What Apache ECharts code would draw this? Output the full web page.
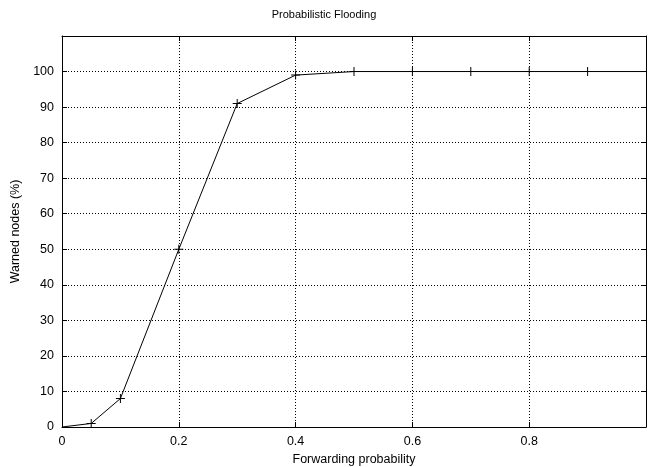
<!DOCTYPE html>
<html><head><meta charset="utf-8">
<script src="https://cdn.jsdelivr.net/npm/echarts@6/dist/echarts.min.js"></script>
<style>html,body{margin:0;padding:0;background:#fff}#c{width:648px;height:467px}</style>
</head><body><div id="c"></div>
<script>
const probabilities = [0, 0.05, 0.1, 0.2, 0.3, 0.4, 0.5, 0.6, 0.7, 0.8, 0.9, 1.0];
const warned = [0, 1, 8, 50, 91, 99, 100, 100, 100, 100, 100, 100];
const xTicks = [0, 0.2, 0.4, 0.6, 0.8];
const yTicks = [0, 10, 20, 30, 40, 50, 60, 70, 80, 90, 100];

const font = 'Liberation Sans, Arial, sans-serif';
const plus = 'path://M4,0H5V4H9V5H5V9H4V5H0V4H4Z';
const data = probabilities.map((p, i) => {
  const item = { value: [p, warned[i]] };
  if (i === 0 || i === probabilities.length - 1) item.symbol = 'none';
  return item;
});
const chart = echarts.init(document.getElementById('c'), null, { renderer: 'canvas' });
const dotted = { show: true, lineStyle: { color: '#000', type: [1, 2], width: 1 } };
chart.setOption({
  animation: false,
  title: { text: 'Probabilistic Flooding', left: 'center', top: 4,
    textStyle: { fontFamily: font, fontSize: 11, fontWeight: 'normal', color: '#000' } },
  grid: { left: 62, right: 2, top: 36, bottom: 40, containLabel: false, outerBoundsMode: 'none' },
  xAxis: [{
    type: 'value', min: 0, max: 1, interval: 0.2,
    name: 'Forwarding probability', nameLocation: 'middle', nameGap: 26,
    nameTextStyle: { fontFamily: font, fontSize: 12.5, color: '#000' },
    axisLine: { onZero: false, lineStyle: { color: '#000', width: 1 } },
    axisTick: { inside: true, length: 5, lineStyle: { color: '#000' } },
    axisLabel: { fontFamily: font, fontSize: 12.5, color: '#000', margin: 8,
      formatter: v => (xTicks.includes(Math.round(v * 10) / 10) ? String(Math.round(v * 10) / 10) : '') },
    splitLine: dotted
  }, {
    type: 'value', min: 0, max: 1, interval: 0.2, position: 'top',
    axisLine: { onZero: false, lineStyle: { color: '#000', width: 1 } },
    axisTick: { inside: true, length: 5, lineStyle: { color: '#000' } },
    axisLabel: { show: false }, splitLine: { show: false }
  }],
  yAxis: [{
    type: 'value', min: 0, max: 110, interval: 10,
    name: 'Warned nodes (%)', nameLocation: 'middle', nameGap: 38, nameRotate: 90,
    nameTextStyle: { fontFamily: font, fontSize: 12.5, color: '#000' },
    axisLine: { onZero: false, lineStyle: { color: '#000', width: 1 } },
    axisTick: { inside: true, length: 5, lineStyle: { color: '#000' } },
    axisLabel: { fontFamily: font, fontSize: 12.5, color: '#000', margin: 8,
      formatter: v => (yTicks.includes(v) ? String(v) : '') },
    splitLine: dotted
  }, {
    type: 'value', min: 0, max: 110, interval: 10, position: 'right',
    axisLine: { onZero: false, lineStyle: { color: '#000', width: 1 } },
    axisTick: { inside: true, length: 5, lineStyle: { color: '#000' } },
    axisLabel: { show: false }, splitLine: { show: false }
  }],
  series: [{
    type: 'line', data: data, xAxisIndex: 0, yAxisIndex: 0,
    symbol: plus, symbolSize: 9, showAllSymbol: true,
    lineStyle: { color: '#000', width: 1 },
    itemStyle: { color: '#000' }, clip: true
  }]
});
</script></body></html>
